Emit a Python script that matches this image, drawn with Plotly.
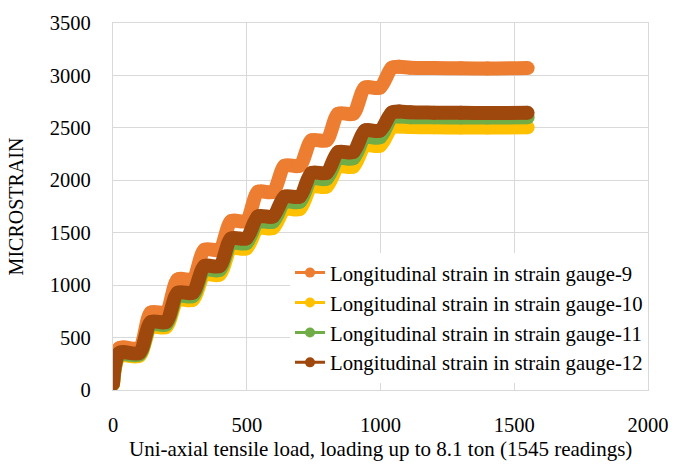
import plotly.graph_objects as go

# Reading index breakpoints (x) shared by all gauges
x_pts = [0, 24, 98, 142, 198, 242, 298, 342, 398, 442, 498, 542, 598, 642,
         698, 742, 798, 842, 898, 942, 998, 1042, 1070, 1110, 1200, 1300, 1400, 1550]

sg9 = [60, 400, 400, 740, 740, 1055, 1055, 1338, 1338, 1611, 1611, 1890, 1890, 2139,
       2139, 2381, 2381, 2635, 2635, 2884, 2884, 3072, 3082, 3074, 3070, 3068, 3066, 3070]
sg10 = [55, 325, 325, 600, 600, 860, 860, 1100, 1100, 1350, 1350, 1545, 1545, 1725,
        1725, 1940, 1940, 2130, 2130, 2330, 2330, 2505, 2512, 2507, 2505, 2504, 2503, 2505]
sg11 = [58, 338, 338, 625, 625, 895, 895, 1145, 1145, 1400, 1400, 1605, 1605, 1795,
        1795, 2015, 2015, 2210, 2210, 2410, 2410, 2600, 2608, 2602, 2600, 2599, 2598, 2600]
sg12 = [60, 354, 354, 649, 649, 928, 928, 1182, 1182, 1446, 1446, 1655, 1655, 1844,
        1844, 2070, 2070, 2269, 2269, 2474, 2474, 2645, 2655, 2648, 2645, 2643, 2642, 2643]

names = ["Longitudinal strain in strain gauge-9", "Longitudinal strain in strain gauge-10",
         "Longitudinal strain in strain gauge-11", "Longitudinal strain in strain gauge-12"]
colors = ["#ED7D31", "#FFC000", "#70AD47", "#9E480E"]
series = [sg9, sg10, sg11, sg12]

x_ticks = [0, 500, 1000, 1500, 2000]
y_ticks = [0, 500, 1000, 1500, 2000, 2500, 3000, 3500]

x_title = "Uni-axial tensile load, loading up to 8.1 ton (1545 readings)"
y_title = "MICROSTRAIN"

FONT = "Liberation Serif"

fig = go.Figure()
for nm, c, ys in zip(names, colors, series):
    fig.add_trace(go.Scatter(x=x_pts, y=ys, mode="lines+markers", name=nm,
                             line=dict(color=c, width=14, shape="spline", smoothing=0.8),
                             marker=dict(color=c, size=14),
                             showlegend=False, hoverinfo="skip"))
for nm, c in zip(names, colors):
    fig.add_trace(go.Scatter(x=[None], y=[None], mode="lines+markers", name=nm,
                             line=dict(color=c, width=3),
                             marker=dict(color=c, size=10)))

grid = "#d9d9d9"
fig.update_layout(
    width=694, height=474,
    margin=dict(l=113, r=46, t=14, b=84),
    paper_bgcolor="white", plot_bgcolor="white",
    font=dict(family=FONT, size=20, color="#000000"),
    legend=dict(x=1, xanchor="right", y=0.02, yanchor="bottom",
                bgcolor="white", borderwidth=0,
                font=dict(family=FONT, size=20.7, color="#000000"),
                tracegroupgap=0),
    xaxis=dict(range=[0, 2000], tickvals=x_ticks, showgrid=True, gridcolor=grid,
               gridwidth=1.3, zeroline=False, showline=True, linecolor=grid,
               linewidth=1.3, mirror=True, ticks="", ticklabelstandoff=16,
               tickfont=dict(family=FONT, size=20.5, color="#000000")),
    yaxis=dict(range=[0, 3500], tickvals=y_ticks, showgrid=True, gridcolor=grid,
               gridwidth=1.3, zeroline=False, showline=True, linecolor=grid,
               linewidth=1.3, mirror=True, ticks="", ticklabelstandoff=17,
               tickfont=dict(family=FONT, size=20.5, color="#000000"),
               title=dict(text=y_title, font=dict(family=FONT, size=20, color="#000000"),
                          standoff=20)),
    annotations=[dict(text=x_title, xref="paper", yref="paper", x=0.5, y=0,
                      xanchor="center", yanchor="middle", yshift=-59, showarrow=False,
                      font=dict(family=FONT, size=21, color="#000000"))],
)

fig.write_html("out.html")
